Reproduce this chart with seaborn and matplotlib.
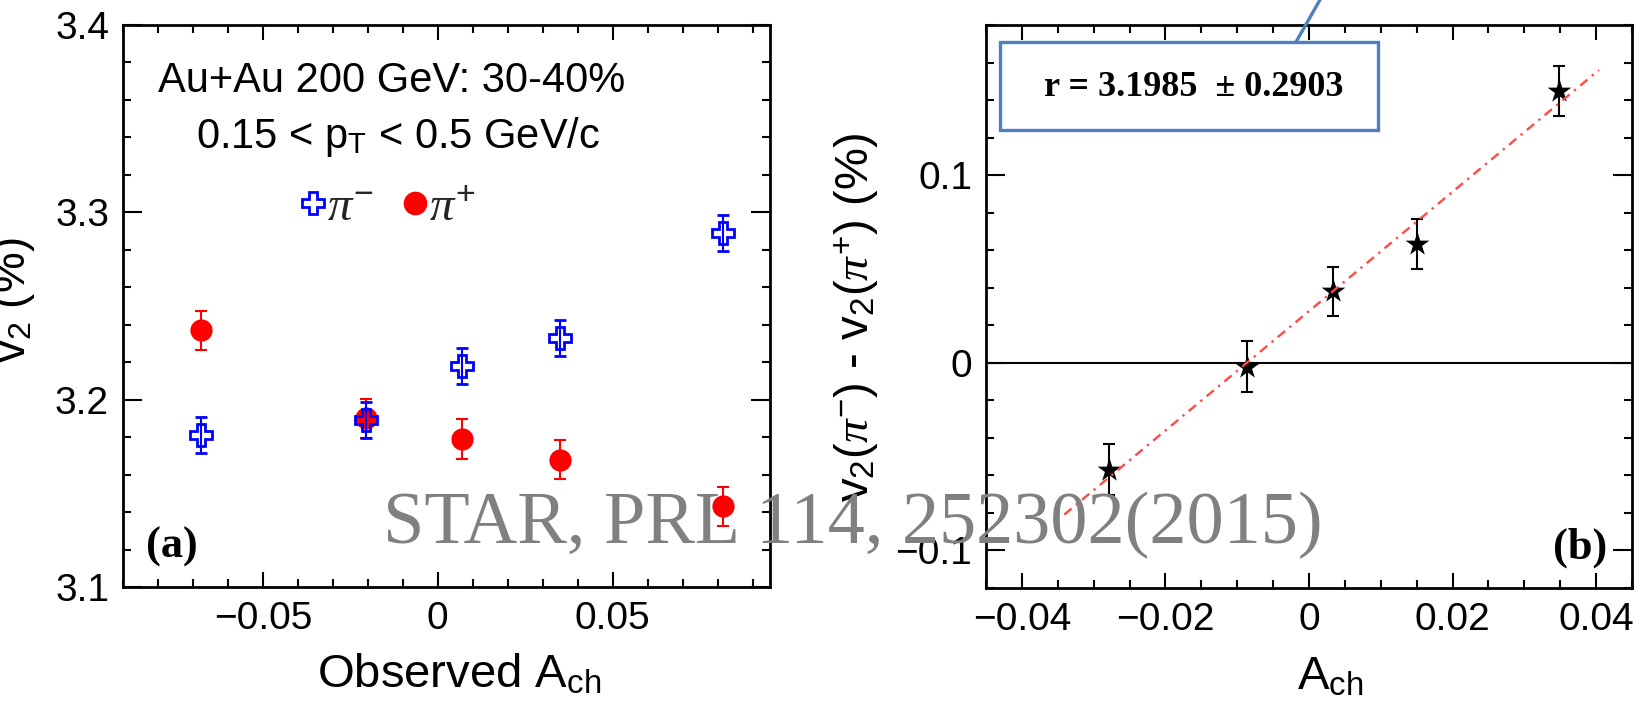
#!/usr/bin/env python
# -*- coding: UTF-8 -*-

# Import Modules
import numpy as np
import pandas as pd
import seaborn as sns
import matplotlib.pyplot as plt
from matplotlib.lines import Line2D
from matplotlib.patches import Rectangle
from matplotlib.ticker import MultipleLocator, FixedLocator, FixedFormatter


# ---- data ----
# panel (a): v2 vs observed A_ch
ach_obs = [-0.0677, -0.0206, 0.0070, 0.0350, 0.0816]
v2_pim = [3.181, 3.189, 3.218, 3.233, 3.289]
v2_pim_err = [0.0097, 0.0097, 0.0097, 0.0097, 0.0097]
v2_pip = [3.237, 3.190, 3.179, 3.168, 3.143]
v2_pip_err = [0.0105, 0.0105, 0.0105, 0.0105, 0.0105]

# panel (b): v2(pi-) - v2(pi+) vs A_ch
ach = [-0.0278, -0.0087, 0.0034, 0.0151, 0.0348]
dv2 = [-0.057, -0.002, 0.038, 0.0635, 0.145]
dv2_err = [0.0137, 0.0137, 0.0133, 0.0133, 0.0133]

# linear fit drawn in the picture (end points)
fit_x = [-0.0341, 0.0404]
fit_y = [-0.0809, 0.156]

# tick values and labels
a_xticks = [-0.05, 0.0, 0.05]
a_xticklabels = ["\u22120.05", "0", "0.05"]
a_yticks = [3.1, 3.2, 3.3, 3.4]
a_yticklabels = ["3.1", "3.2", "3.3", "3.4"]
b_xticks = [-0.04, -0.02, 0.0, 0.02, 0.04]
b_xticklabels = ["\u22120.04", "\u22120.02", "0", "0.02", "0.04"]
b_yticks = [-0.1, 0.0, 0.1]
b_yticklabels = ["\u22120.1", "0", "0.1"]

fit_text = "r = 3.1985  \u00b1 0.2903"
ref_text = "STAR, PRL 114, 252302(2015)"


W, H = 1635, 719


def fx(x):
    return x / W


def fy(y):
    return 1 - y / H


sns.set_theme(style="ticks")
plt.rcParams["font.family"] = ["Liberation Sans", "DejaVu Sans"]
plt.rcParams["mathtext.fontset"] = "custom"
plt.rcParams["mathtext.rm"] = "Liberation Sans"
plt.rcParams["mathtext.it"] = "Liberation Serif:italic"
plt.rcParams["mathtext.bf"] = "Liberation Sans:bold"
plt.rcParams["axes.unicode_minus"] = True

fig = plt.figure(figsize=(W / 100, H / 100), dpi=100)
fig.patch.set_facecolor("white")

ax1 = fig.add_axes([fx(123), fy(587), (770 - 123) / W, (587 - 25) / H])
ax2 = fig.add_axes([fx(986), fy(588), (1632 - 986) / W, (588 - 25) / H])


def style_axis(ax, xticks, xlabels, yticks, ylabels, xminor, yminor):
    ax.set_facecolor("white")
    for sp in ax.spines.values():
        sp.set_visible(True)
        sp.set_color("black")
        sp.set_linewidth(2.0)
    ax.xaxis.set_major_locator(FixedLocator(xticks))
    ax.xaxis.set_major_formatter(FixedFormatter(xlabels))
    ax.yaxis.set_major_locator(FixedLocator(yticks))
    ax.yaxis.set_major_formatter(FixedFormatter(ylabels))
    ax.xaxis.set_minor_locator(MultipleLocator(xminor))
    ax.yaxis.set_minor_locator(MultipleLocator(yminor))
    ax.tick_params(which="both", direction="in", top=True, right=True,
                   width=1.5, color="black", labelsize=28, labelcolor="black")
    ax.tick_params(axis="x", which="major", length=11, pad=10)
    ax.tick_params(axis="y", which="major", length=14, pad=10)
    ax.tick_params(which="minor", length=6)
    ax.grid(False)


# ---- panel (a) ----
ax1.errorbar(ach_obs, v2_pip, yerr=v2_pip_err, fmt="none", ecolor="red",
             elinewidth=1.5, capsize=4.5, capthick=1.5, zorder=3)
sns.scatterplot(x=ach_obs, y=v2_pip, marker="o", s=16 ** 2, color="red",
                edgecolor="red", linewidth=0, ax=ax1, zorder=4)
ax1.errorbar(ach_obs, v2_pim, yerr=v2_pim_err, fmt="P", ms=16, mfc="none",
             mec="blue", mew=2.0, ecolor="blue", elinewidth=1.5,
             capsize=4.5, capthick=1.5, zorder=5)

ax1.set_xlim(-0.09, 0.095)
ax1.set_ylim(3.1, 3.4)
style_axis(ax1, a_xticks, a_xticklabels, a_yticks, a_yticklabels, 0.01, 0.02)

ax1.set_xlabel(r"Observed A$_{\rm ch}$", fontsize=34, color="black")
ax1.xaxis.label.set_va("baseline")
ax1.xaxis.set_label_coords(0.519, -0.18)
ax1.set_ylabel(r"v$_{2}$ (%)", fontsize=33, color="black")
ax1.yaxis.label.set_va("baseline")
ax1.yaxis.set_label_coords(-0.151, 0.511)

ax1.text(fx(158), fy(92), "Au+Au 200 GeV: 30-40%", transform=fig.transFigure,
         fontsize=30, ha="left", va="baseline", color="black")
ax1.text(fx(196), fy(148), r"0.15 < p$_{\rm T}$ < 0.5 GeV/c",
         transform=fig.transFigure, fontsize=30, ha="left", va="baseline",
         color="black")
ax1.text(0.036, 0.053, "(a)", transform=ax1.transAxes, fontsize=32,
         fontweight="bold", family="Liberation Serif", ha="left",
         va="baseline", color="black")

handles = [
    Line2D([], [], marker="P", ls="none", mfc="none", mec="blue", mew=2.0, ms=16),
    Line2D([], [], marker="o", ls="none", color="red", ms=16),
]
leg = ax1.legend(handles, [r"$\pi^{-}$", r"$\pi^{+}$"], ncol=2, frameon=False,
                 fontsize=35, handlelength=0.5, handletextpad=0.05,
                 columnspacing=0.6, borderpad=0, loc="center",
                 bbox_to_anchor=(fx(388), fy(208)),
                 bbox_transform=fig.transFigure)

# ---- panel (b) ----
ax2.axhline(0, color="black", lw=1.5, zorder=2)
ax2.errorbar(ach, dv2, yerr=dv2_err, fmt="none", ecolor="black",
             elinewidth=1.5, capsize=4.5, capthick=1.5, zorder=3)
sns.scatterplot(x=ach, y=dv2, marker="*", s=18 ** 2, color="black",
                edgecolor="black", linewidth=0, ax=ax2, zorder=4)
fit_df = pd.DataFrame({"x": fit_x, "y": fit_y})
sns.lineplot(data=fit_df, x="x", y="y", ax=ax2, color="#ff4a4a", lw=1.7,
             dashes=False, zorder=5)
ax2.lines[-1].set_dashes((4, 2.4, 1, 2.4))

ax2.set_xlim(-0.045, 0.045)
ax2.set_ylim(-0.12, 0.18)
style_axis(ax2, b_xticks, b_xticklabels, b_yticks, b_yticklabels, 0.005, 0.02)

ax2.set_xlabel(r"A$_{\rm ch}$", fontsize=34, color="black")
ax2.xaxis.label.set_va("baseline")
ax2.xaxis.set_label_coords(0.533, -0.18)
ax2.set_ylabel(r"v$_2$($\pi^{-}$) - v$_2$($\pi^{+}$) (%)", fontsize=34,
               color="black")
ax2.yaxis.label.set_va("baseline")
ax2.yaxis.set_label_coords(-0.183, 0.48)

ax2.text(0.962, 0.053, "(b)", transform=ax2.transAxes, fontsize=32,
         fontweight="bold", family="Liberation Serif", ha="right",
         va="baseline", color="black")

# ---- slide annotations on top ----
box = Rectangle((fx(1000), fy(130)), (1378 - 1000) / W, (130 - 42) / H,
                transform=fig.transFigure, facecolor="white",
                edgecolor="#4f7fbf", linewidth=2.4, zorder=10)
fig.patches.append(box)
fig.lines.append(Line2D([fx(1296), fx(1321)], [fy(42), fy(-2)],
                        transform=fig.transFigure, color="#4f7fbf", lw=2.4,
                        zorder=10))
fig.text(fx(1194), fy(88), fit_text, fontsize=26, fontweight="bold",
         family="Liberation Serif", ha="center", va="center", color="black",
         zorder=11)

fig.text(fx(383), fy(543), ref_text, fontsize=53.5, family="Liberation Serif",
         color="#808080", ha="left", va="baseline", zorder=20)

fig.savefig("out.png", dpi=100, facecolor="white")
